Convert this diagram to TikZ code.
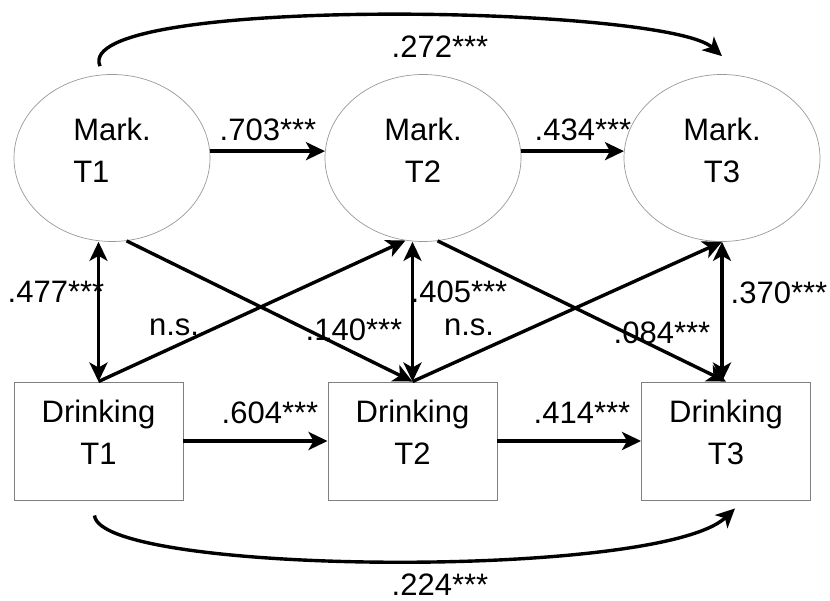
\documentclass[tikz,border=0pt]{standalone}
\usepackage{fontspec}
\setmainfont{Liberation Sans}
\usetikzlibrary{shapes.geometric,arrows.meta}

\begin{document}
\begin{tikzpicture}[x=1pt,y=-1pt,font=\fontsize{31}{42}\selectfont]
	% `latent' is used for the marketing ellipses, `observed' for the drinking boxes.
	% `regress' and `covar' are the paths, `coef' the numbers on them.
	\tikzstyle{latent} = [draw=gray!80,line width=0.7pt,ellipse,minimum width=196pt,minimum height=167pt,inner sep=0pt,align=center,text depth=16pt]
	\tikzstyle{observed} = [draw=gray,line width=0.9pt,minimum width=169pt,minimum height=118pt,inner sep=0pt,align=center,text depth=17pt]
	\tikzstyle{regress} = [line width=3.4pt,-{Stealth[length=19pt,width=18pt,inset=5pt]}]
	\tikzstyle{covar} = [line width=3.4pt,{Stealth[length=19pt,width=18pt,inset=5pt]}-{Stealth[length=19pt,width=18pt,inset=5pt]}]
	\tikzstyle{coef} = [inner sep=0pt]
	\useasboundingbox (0,0) rectangle (830,601);
	%
	% Marketing row.
	\node[latent,align=left] (mark1) at (112,158) {Mark.\\T1};
	\node[latent] (mark2) at (423,158) {Mark.\\T2};
	\node[latent] (mark3) at (722,158) {Mark.\\T3};
	% Drinking row.
	\node[observed] (drink1) at (98.5,441) {Drinking\\T1};
	\node[observed] (drink2) at (412.5,441) {Drinking\\T2};
	\node[observed] (drink3) at (726,441) {Drinking\\T3};
	%
	% Stability paths.
	\draw[regress] (mark1.4) -- (mark2.176);
	\draw[regress] (mark2.4) -- (mark3.176);
	\draw[regress] (drink1.east) -- (drink2.west);
	\draw[regress] (drink2.east) -- (drink3.west);
	\draw[regress] ([shift={(-12pt,8pt)}]mark1.north) .. controls (70,-5) and (665,5) .. ([yshift=18pt]mark3.north);
	\draw[regress] ([shift={(-4pt,-15pt)}]drink1.south) .. controls (100,575) and (660,580) .. ([shift={(9pt,-8pt)}]drink3.south);
	% Within-wave covariances.
	\draw[covar] (drink1.north) -- (drink1.north |- mark1.south);
	\draw[covar] (drink2.north) -- (drink2.north |- mark2.south);
	\draw[covar] (mark3.south) -- (mark3.south |- drink3.north);
	% Cross-lagged paths.
	\draw[regress] (mark1.-80) -- (drink2.north);
	\draw[regress] (drink1.north) -- (mark2.-102);
	\draw[regress] (mark2.-80) -- (drink3.north);
	\draw[regress] (drink2.north) -- (mark3.south);
	%
	% Coefficients.
	\node[coef] (cMM13) at (440,47) {.272***};
	\node[coef] (cMM12) at (268,130) {.703***};
	\node[coef] (cMM23) at (583,130) {.434***};
	\node[coef] (cMD1) at (56,292) {.477***};
	\node[coef] (cMD2) at (459,292) {.405***};
	\node[coef] (cMD3) at (779,293) {.370***};
	\node[coef] (cDM12) at (174,327) {n.s.};
	\node[coef] (cMD12) at (354,330) {.140***};
	\node[coef] (cDM23) at (469,327) {n.s.};
	\node[coef] (cMD23) at (662,333) {.084***};
	\node[coef] (cDD12) at (270,413) {.604***};
	\node[coef] (cDD23) at (582,413) {.414***};
	\node[coef] (cDD13) at (440,585) {.224***};
\end{tikzpicture}
\end{document}
